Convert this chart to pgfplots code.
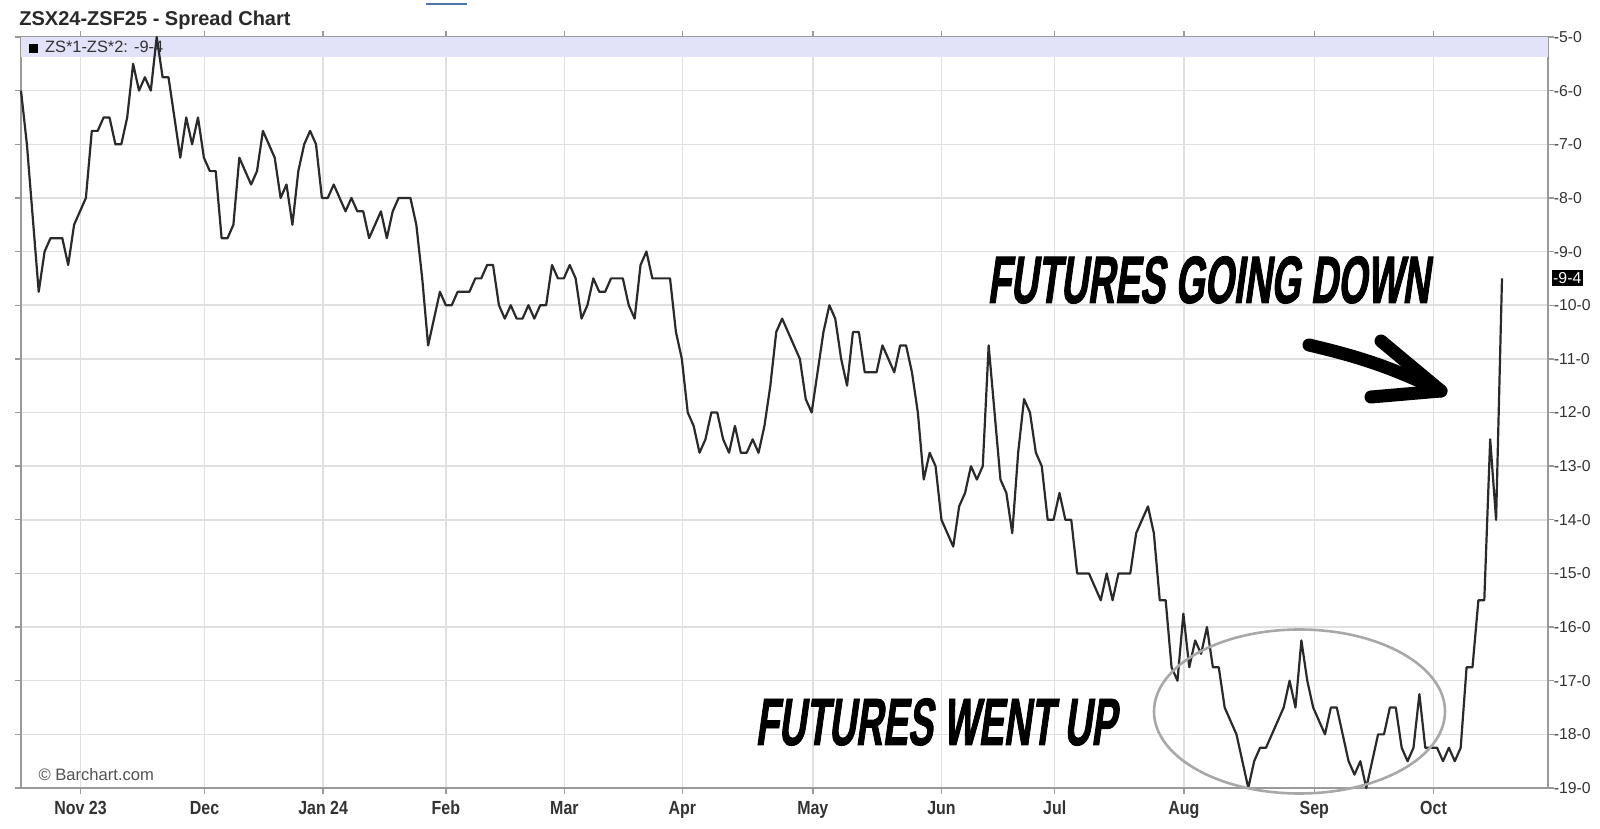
\documentclass[border=0pt]{standalone}
\usepackage{pgfplots}
\pgfplotsset{compat=1.18}
\usepackage{pgfplotstable}
\usepackage{fontspec}
\setmainfont{Liberation Sans}
\newfontfamily\narrowfont{Liberation Sans}[FakeStretch=0.84]
\newfontfamily\annfont{Liberation Sans}[FakeStretch=0.56,FakeSlant=0.14,FakeBold=1.2]

\definecolor{gridc}{HTML}{E0E0E0}
\definecolor{framec}{HTML}{9A9A9A}
\definecolor{bandc}{HTML}{E2E2F8}
\definecolor{linec}{HTML}{2A2A2A}
\definecolor{labc}{HTML}{333333}
\definecolor{ellc}{HTML}{A8A8A8}
\definecolor{tabc}{HTML}{4F77AA}

% daily spread ZS*1-ZS*2, trading-day index vs cents
\pgfplotstableread{
x y
0 -6.0
1 -7.0
3 -9.75
4 -9.0
5 -8.75
6 -8.75
7 -8.75
8 -9.25
9 -8.5
10 -8.25
11 -8.0
12 -6.75
13 -6.75
14 -6.5
15 -6.5
16 -7.0
17 -7.0
18 -6.5
19 -5.5
20 -6.0
21 -5.75
22 -6.0
23 -5.0
24 -5.75
25 -5.75
26 -6.5
27 -7.25
28 -6.5
29 -7.0
30 -6.5
31 -7.25
32 -7.5
33 -7.5
34 -8.75
35 -8.75
36 -8.5
37 -7.25
38 -7.5
39 -7.75
40 -7.5
41 -6.75
42 -7.0
43 -7.25
44 -8.0
45 -7.75
46 -8.5
47 -7.5
48 -7.0
49 -6.75
50 -7.0
51 -8.0
52 -8.0
53 -7.75
54 -8.0
55 -8.25
56 -8.0
57 -8.25
58 -8.25
59 -8.75
60 -8.5
61 -8.25
62 -8.75
63 -8.25
64 -8.0
65 -8.0
66 -8.0
67 -8.5
68 -9.5
69 -10.75
70 -10.25
71 -9.75
72 -10.0
73 -10.0
74 -9.75
75 -9.75
76 -9.75
77 -9.5
78 -9.5
79 -9.25
80 -9.25
81 -10.0
82 -10.25
83 -10.0
84 -10.25
85 -10.25
86 -10.0
87 -10.25
88 -10.0
89 -10.0
90 -9.25
91 -9.5
92 -9.5
93 -9.25
94 -9.5
95 -10.25
96 -10.0
97 -9.5
98 -9.75
99 -9.75
100 -9.5
101 -9.5
102 -9.5
103 -10.0
104 -10.25
105 -9.25
106 -9.0
107 -9.5
108 -9.5
109 -9.5
110 -9.5
111 -10.5
112 -11.0
113 -12.0
114 -12.25
115 -12.75
116 -12.5
117 -12.0
118 -12.0
119 -12.5
120 -12.75
121 -12.25
122 -12.75
123 -12.75
124 -12.5
125 -12.75
126 -12.25
127 -11.5
128 -10.5
129 -10.25
130 -10.5
131 -10.75
132 -11.0
133 -11.75
134 -12.0
135 -11.25
136 -10.5
137 -10.0
138 -10.25
139 -11.0
140 -11.5
141 -10.5
142 -10.5
143 -11.25
144 -11.25
145 -11.25
146 -10.75
147 -11.0
148 -11.25
149 -10.75
150 -10.75
151 -11.25
152 -12.0
153 -13.25
154 -12.75
155 -13.0
156 -14.0
157 -14.25
158 -14.5
159 -13.75
160 -13.5
161 -13.0
162 -13.25
163 -13.0
164 -10.75
165 -12.0
166 -13.25
167 -13.5
168 -14.25
169 -12.75
170 -11.75
171 -12.0
172 -12.75
173 -13.0
174 -14.0
175 -14.0
176 -13.5
177 -14.0
178 -14.0
179 -15.0
180 -15.0
181 -15.0
182 -15.25
183 -15.5
184 -15.0
185 -15.5
186 -15.0
187 -15.0
188 -15.0
189 -14.25
190 -14.0
191 -13.75
192 -14.25
193 -15.5
194 -15.5
195 -16.75
196 -17.0
197 -15.75
198 -16.75
199 -16.25
200 -16.5
201 -16.0
202 -16.75
203 -16.75
204 -17.5
205 -17.75
206 -18.0
207 -18.5
208 -19.0
209 -18.5
210 -18.25
211 -18.25
212 -18.0
213 -17.75
214 -17.5
215 -17.0
216 -17.5
217 -16.25
218 -17.0
219 -17.5
220 -17.75
221 -18.0
222 -17.5
223 -17.5
224 -18.0
225 -18.5
226 -18.75
227 -18.5
228 -19.0
229 -18.5
230 -18.0
231 -18.0
232 -17.5
233 -17.5
234 -18.25
235 -18.5
236 -18.25
237 -17.25
238 -18.25
239 -18.25
240 -18.25
241 -18.5
242 -18.25
243 -18.5
244 -18.25
245 -16.75
246 -16.75
247 -15.5
248 -15.5
249 -12.5
250 -14.0
251 -9.5
}\spread

\begin{document}
\begin{tikzpicture}
\useasboundingbox (-10.5pt,-20.5pt) rectangle (789.5pt,394pt);
\fill[white] (-10.5pt,-20.5pt) rectangle (789.5pt,394pt);

\begin{axis}[
    at={(0pt,0pt)}, anchor=south west,
    scale only axis,
    width=763.5pt, height=375.5pt,
    xmin=0, xmax=258.8,
    ymin=-19, ymax=-5,
    xtick={10.1,31.1,51.2,72.0,92.1,112.1,134.2,156.0,175.2,197.1,219.2,239.4},
    xticklabels={Nov 23,Dec,Jan 24,Feb,Mar,Apr,May,Jun,Jul,Aug,Sep,Oct},
    ytick={-19,-18,-17,-16,-15,-14,-13,-12,-11,-10,-9,-8,-7,-6,-5},
    yticklabels={-19-0,-18-0,-17-0,-16-0,-15-0,-14-0,-13-0,-12-0,-11-0,-10-0,-9-0,-8-0,-7-0,-6-0,-5-0},
    yticklabel pos=right,
    tick align=outside,
    major tick length=3pt,
    tick style={framec, line width=0.7pt},
    xmajorgrids=true, ymajorgrids=true,
    major grid style={gridc, line width=0.75pt},
    axis line style={framec, line width=0.7pt},
    xticklabel style={font=\narrowfont\bfseries\fontsize{9.5}{11}\selectfont, text=labc},
    yticklabel style={font=\fontsize{7.9}{9}\selectfont, text=labc, xshift=-3.6pt},
    clip=false,
]
\fill[bandc] (axis cs:0,-5) rectangle (axis cs:258.8,-5.373);
\node[anchor=west, inner sep=0pt, font=\fontsize{8.2}{9}\selectfont, text=labc]
    at (axis cs:1.3,-5.19) {\textcolor{black}{\rule{4.4pt}{4.4pt}}\hspace{3.6pt}ZS*1-ZS*2: -9-4};
\node[anchor=west, inner sep=0pt, font=\fontsize{8.3}{9}\selectfont, text=labc!85!white]
    at (axis cs:2.9,-18.75) {\textcopyright\ Barchart.com};

\addplot[linec, line width=1.1pt, line join=round] table {\spread};

\node[anchor=west, fill=black, text=white, inner xsep=0.6pt, inner ysep=1.2pt,
      font=\fontsize{7.9}{9}\selectfont] at (axis cs:258.8,-9.5) [xshift=1.8pt] {-9-4};
\end{axis}

% title and tab marker
\node[anchor=base west, inner sep=0pt, font=\bfseries\fontsize{10}{12}\selectfont, text=labc!80!black]
    at (-1pt,381pt) {ZSX24-ZSF25 - Spread Chart};
\draw[tabc, line width=0.8pt] (202.5pt,392pt) -- (223pt,392pt);

% annotations
\node[anchor=base west, inner sep=0pt, font=\annfont\bfseries\fontsize{33.5}{36}\selectfont]
    at (483pt,242.5pt) {FUTURES GOING DOWN};
\node[anchor=base west, inner sep=0pt, font=\annfont\bfseries\fontsize{33.5}{36}\selectfont]
    at (367pt,21.5pt) {FUTURES WENT UP};
\draw[ellc, line width=1.3pt] (639.25pt,38.25pt) ellipse [x radius=72.75pt, y radius=41pt];
\draw[black, line width=6.5pt, line cap=round, line join=round]
    (644pt,221.5pt) to[bend left=6] (710pt,198.5pt);
\draw[black, line width=6.5pt, line cap=round, line join=round]
    (680pt,223.5pt) -- (710pt,198.5pt) -- (675pt,195.5pt);
\end{tikzpicture}
\end{document}
